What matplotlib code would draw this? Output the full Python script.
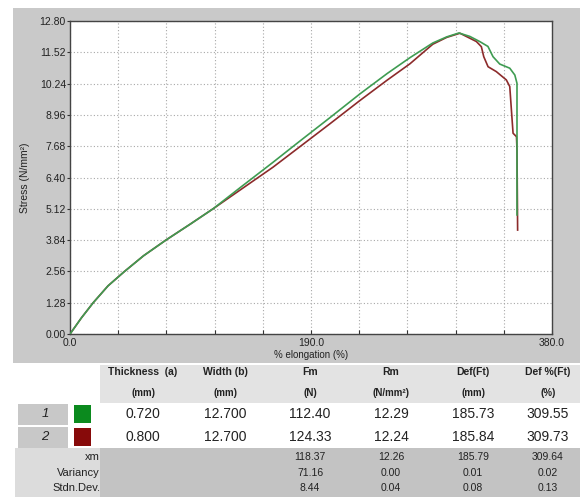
import numpy as np
import matplotlib
matplotlib.use("Agg")
import matplotlib.pyplot as plt
from matplotlib.patches import Rectangle

# curve data (% elongation, stress)
green_x = [0, 9, 18.3, 30, 43, 58, 75.6, 95, 112.8, 135, 160, 181, 205, 228.6, 250, 268, 286, 297, 306.6,
           315.2, 323, 329.5, 333.5, 338.8, 346.7, 350.7, 352.4, 352.4]
green_y = [0, 0.66, 1.28, 1.97, 2.56, 3.2, 3.84, 4.5, 5.12, 6.02, 7.02, 7.88, 8.85, 9.82, 10.65, 11.3, 11.9, 12.15, 12.31,
           12.17, 11.96, 11.76, 11.34, 11.04, 10.87, 10.59, 10.25, 4.87]
red_x = [0, 9, 18.3, 30, 43, 58, 75.6, 95, 112.8, 135, 160, 181, 205, 228.6, 250, 268, 286, 297, 307.4,
         320.4, 324.3, 326.2, 329.6, 336.1, 344, 346.7, 348, 349.3, 352, 352.4, 352.9]
red_y = [0, 0.66, 1.28, 1.97, 2.56, 3.2, 3.84, 4.5, 5.12, 5.92, 6.82, 7.65, 8.6, 9.55, 10.38, 11.05, 11.85, 12.13, 12.3,
         11.96, 11.75, 11.34, 10.93, 10.73, 10.39, 10.12, 9.16, 8.21, 8.07, 7.52, 4.25]

# table content
col_heads = ["Thickness  (a)", "Width (b)", "Fm", "Rm", "Def(Ft)", "Def %(Ft)"]
col_units = ["(mm)", "(mm)", "(N)", "(N/mm\u00b2)", "(mm)", "(%)"]
row_ids = ["1", "2"]
row_colors = ["#0b8a1e", "#870a0a"]
row_values = [["0.720", "12.700", "112.40", "12.29", "185.73", "309.55"],
              ["0.800", "12.700", "124.33", "12.24", "185.84", "309.73"]]
stat_names = ["xm", "Variancy", "Stdn.Dev."]
stat_values = [["118.37", "12.26", "185.79", "309.64"],
               ["71.16", "0.00", "0.01", "0.02"],
               ["8.44", "0.04", "0.08", "0.13"]]

W, H = 583, 497
narrow = ["Liberation Sans Narrow", "Liberation Sans", "DejaVu Sans"]
arial = ["Liberation Sans", "DejaVu Sans"]

fig = plt.figure(figsize=(W / 100, H / 100), dpi=100, facecolor="white")


def fx(px):
    return px / W


def fy(py):
    return 1 - py / H


def box(x0, y0, x1, y1, color):
    fig.add_artist(Rectangle((fx(x0), fy(y1)), (x1 - x0) / W, (y1 - y0) / H,
                             transform=fig.transFigure, facecolor=color, edgecolor="none", zorder=0))


def txt(px, py, s, **kw):
    fig.text(fx(px), fy(py), s, va="center", **kw)


# grey chart panel
box(13, 8, 580, 363, "#c9c9c9")

ax = fig.add_axes([fx(70), fy(334), 482 / W, 313 / H])
ax.set_facecolor("white")
ax.plot(red_x, red_y, color="#8c2b2b", lw=1.2, zorder=3)
ax.plot(green_x, green_y, color="#3f9c52", lw=1.2, zorder=4)
ax.set_xlim(0, 380)
ax.set_ylim(0, 12.8)

xt = np.arange(0, 381, 38)
ax.set_xticks(xt)
ax.set_xticklabels(["%.1f" % v if v in (0, 190, 380) else "" for v in xt], fontfamily=narrow, fontsize=7.5)
yt = np.arange(11) * 1.28
ax.set_yticks(yt)
ax.set_yticklabels(["%.2f" % v for v in yt], fontfamily=narrow, fontsize=7.5)
ax.tick_params(axis="x", direction="in", length=3, pad=3, colors="#333333", labelcolor="#222222")
ax.tick_params(axis="y", direction="out", length=2, pad=1, colors="#333333", labelcolor="#222222")
ax.grid(True, color="#a8a8a8", linestyle=(0, (1, 2)), lw=0.8)
for s in ax.spines.values():
    s.set_color("#444444")
    s.set_linewidth(1)
ax.set_xlabel("% elongation (%)", fontfamily=narrow, fontsize=7, labelpad=1, color="#222222")
ax.set_ylabel("Stress (N/mm\u00b2)", fontfamily=narrow, fontsize=7.5, labelpad=7, color="#222222")

# table backgrounds
box(100, 365, 580, 403, "#e3e3e3")
box(15, 448, 100, 497, "#dcdcdc")
box(100, 448, 580, 497, "#c3c3c3")

col_x = [143, 225, 310, 391, 473, 548]
for i, cx in enumerate(col_x):
    txt(cx, 372, col_heads[i], ha="center", fontfamily=arial, fontsize=7.5, fontweight="bold", color="#222222")
    txt(cx, 393, col_units[i], ha="center", fontfamily=arial, fontsize=7, fontweight="bold", color="#222222")

row_y = [414, 437]
for r, ry in enumerate(row_y):
    box(18, ry - 10, 68, ry + 11, "#c8c8c8")
    box(74, ry - 9, 91, ry + 9, row_colors[r])
    txt(45, ry, row_ids[r], ha="center", fontfamily=arial, fontsize=9.5, style="italic", color="#222222")
    for i, cx in enumerate(col_x):
        txt(cx, ry, row_values[r][i], ha="center", fontfamily=arial, fontsize=10, color="#222222")

stat_y = [457, 473, 488]
for r, sy in enumerate(stat_y):
    txt(100, sy, stat_names[r], ha="right", fontfamily=arial, fontsize=8, color="#222222")
    for i, cx in enumerate(col_x[2:]):
        txt(cx, sy, stat_values[r][i], ha="center", fontfamily=arial, fontsize=7.5, color="#222222")

fig.savefig("out.png", dpi=100)
